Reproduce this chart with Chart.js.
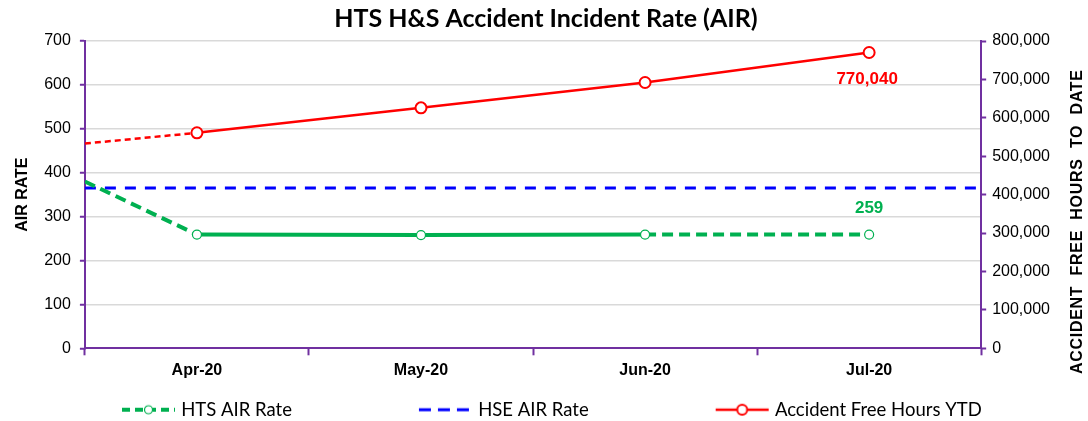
<!DOCTYPE html>
<html>
<head>
<meta charset="utf-8">
<script src="https://cdn.jsdelivr.net/npm/chart.js@4.4.1/dist/chart.umd.min.js"></script>
<style>
  html, body { margin: 0; padding: 0; background: #fff; }
  #wrap { width: 1088px; height: 421px; position: relative; }
</style>
</head>
<body>
<div id="wrap"><canvas id="c"></canvas></div>
<script>
// ---- data ----
const categories = ['Apr-20', 'May-20', 'Jun-20', 'Jul-20'];
// x positions: lead-in value at the left edge of the plot (-0.5), then the categories
const xPositions = [-0.5, 0, 1, 2, 3];
const htsAirRate = [380, 259, 258, 259, 259];
const htsDashedSegments = [0, 3];
const hseX = [-0.5, 3.5];
const hseAirRate = [365, 365];
const freeHoursYTD = [533000, 561000, 626000, 692000, 770040];
const freeHoursDashedSegments = [0];
const leftTicks = { min: 0, max: 700, step: 100 };
const rightTicks = { min: 0, max: 800000, step: 100000 };

const PURPLE = '#7030A0';
const GREEN = '#00B050';
const BLUE = '#0000FF';
const RED = '#FF0000';
const GRID = '#d9d9d9';

function pts(xs, ys) { return ys.map((y, i) => ({ x: xs[i], y })); }

const LEG_W = 171;
const IMG_W = LEG_W + 8;
function legendImage(color, lw, dash, marker, mr, mlw) {
  const cv = document.createElement('canvas');
  cv.width = IMG_W; cv.height = 14;
  const c = cv.getContext('2d');
  const x1 = IMG_W - 1, x0 = x1 - 53;
  c.strokeStyle = color; c.lineWidth = lw; c.setLineDash(dash);
  c.beginPath(); c.moveTo(x0, 7); c.lineTo(x1, 7); c.stroke();
  if (marker) {
    c.setLineDash([]);
    c.fillStyle = '#fff'; c.lineWidth = mlw;
    c.beginPath(); c.arc((x0 + x1) / 2, 7, mr, 0, Math.PI * 2); c.fill(); c.stroke();
  }
  return cv;
}
const legendImgs = [
  legendImage(GREEN, 4, [8, 5], true, 4, 1.2),
  legendImage(BLUE, 3, [12, 7], false),
  legendImage(RED, 2.5, [], true, 5, 2)
];

const valueLabels = {
  id: 'valueLabels',
  afterDatasetsDraw(chart) {
    const ctx = chart.ctx;
    ctx.save();
    ctx.font = 'bold 17px "Liberation Sans", Arial, sans-serif';
    ctx.textAlign = 'center';
    ctx.textBaseline = 'middle';
    const m0 = chart.getDatasetMeta(2).data;
    const pr = m0[m0.length - 1];
    ctx.fillStyle = RED;
    ctx.fillText(freeHoursYTD[freeHoursYTD.length - 1].toLocaleString('en-US'), pr.x - 2, pr.y + 27);
    const m1 = chart.getDatasetMeta(0).data;
    const pg = m1[m1.length - 1];
    ctx.fillStyle = GREEN;
    ctx.fillText(String(htsAirRate[htsAirRate.length - 1]), pg.x, pg.y - 26);
    ctx.restore();
  }
};

const rightTitle = {
  id: 'rightTitle',
  afterDraw(chart) {
    const ctx = chart.ctx;
    const ca = chart.chartArea;
    ctx.save();
    ctx.translate(1078, (ca.top + ca.bottom) / 2 + 27);
    ctx.rotate(-Math.PI / 2);
    ctx.font = 'bold 16px "Liberation Sans", Arial, sans-serif';
    try { ctx.letterSpacing = '0.7px'; } catch (e) {}
    ctx.fillStyle = '#000';
    ctx.textAlign = 'center';
    ctx.textBaseline = 'middle';
    ctx.fillText('ACCIDENT  FREE  HOURS  TO  DATE', 0, 0);
    ctx.restore();
  }
};

const dashFor = (list) => (ctx) => list.includes(ctx.p0DataIndex) ? undefined : [];

new Chart(document.getElementById('c'), {
  type: 'line',
  data: {
    datasets: [
      {
        label: 'HTS AIR Rate',
        data: pts(xPositions, htsAirRate),
        yAxisID: 'y',
        borderColor: GREEN,
        borderWidth: 4,
        borderDash: [11, 6],
        backgroundColor: '#fff',
        pointBackgroundColor: '#fff',
        pointBorderColor: GREEN,
        pointBorderWidth: 1.2,
        pointRadius: (c) => c.dataIndex === 0 ? 0 : 4.5,
        segment: { borderDash: dashFor(htsDashedSegments) },
        order: 2
      },
      {
        label: 'HSE AIR Rate',
        data: pts(hseX, hseAirRate),
        yAxisID: 'y',
        borderColor: BLUE,
        borderWidth: 3,
        borderDash: [11, 9],
        pointRadius: 0,
        order: 3
      },
      {
        label: 'Accident Free Hours YTD',
        data: pts(xPositions, freeHoursYTD),
        yAxisID: 'y1',
        borderColor: RED,
        borderWidth: 2.5,
        borderDash: [6, 4],
        pointBackgroundColor: '#fff',
        pointBorderColor: RED,
        pointBorderWidth: 2,
        pointRadius: (c) => c.dataIndex === 0 ? 0 : 5.5,
        segment: { borderDash: dashFor(freeHoursDashedSegments) },
        order: 1
      }
    ]
  },
  plugins: [valueLabels, rightTitle],
  options: {
    responsive: true,
    maintainAspectRatio: false,
    animation: false,
    layout: { padding: { left: -5, right: -9, top: 4, bottom: -8 } },
    plugins: {
      title: {
        display: true,
        text: 'HTS H&S Accident Incident Rate (AIR)',
        color: '#000',
        font: { family: 'Lato, "Open Sans", sans-serif', size: 25, weight: 'bold' },
        padding: { top: 0, bottom: 7 }
      },
      legend: {
        position: 'bottom',
        align: 'start',
        labels: {
          usePointStyle: true,
          pointStyleWidth: LEG_W,
          boxHeight: 14,
          padding: 6,
          color: '#000',
          font: { family: 'Lato, "Open Sans", sans-serif', size: 18.5 },
          generateLabels(chart) {
            return chart.data.datasets.map((ds, i) => ({
              text: ds.label,
              pointStyle: legendImgs[i],
              fillStyle: 'transparent',
              strokeStyle: 'transparent',
              lineWidth: 0,
              datasetIndex: i,
              hidden: false
            }));
          }
        }
      },
      tooltip: { enabled: false }
    },
    scales: {
      x: {
        type: 'linear',
        min: -0.5,
        max: 3.5,
        afterBuildTicks(scale) {
          const t = [];
          for (let v = -0.5; v <= 3.5; v += 0.5) t.push({ value: v });
          scale.ticks = t;
        },
        afterFit(scale) { scale.height += 8; },
        ticks: {
          autoSkip: false,
          maxRotation: 0,
          padding: 6,
          color: '#000',
          font: { family: '"Liberation Sans", Arial, sans-serif', size: 16, weight: 'bold' },
          callback: (v) => Number.isInteger(v) ? categories[v] : ''
        },
        grid: {
          drawOnChartArea: false,
          tickLength: 7,
          tickColor: (c) => (c.tick && Number.isInteger(c.tick.value)) ? 'rgba(0,0,0,0)' : PURPLE,
          tickWidth: 2
        },
        border: { color: PURPLE, width: 2 }
      },
      y: {
        position: 'left',
        min: leftTicks.min,
        max: leftTicks.max,
        ticks: {
          stepSize: leftTicks.step,
          padding: 9,
          color: '#000',
          font: { family: '"Liberation Sans", Arial, sans-serif', size: 16 }
        },
        grid: {
          color: (c) => c.tick && c.tick.value === 0 ? 'rgba(0,0,0,0)' : GRID,
          lineWidth: 1.5,
          tickColor: PURPLE,
          tickLength: 5,
          tickWidth: 2
        },
        border: { color: PURPLE, width: 2 },
        title: {
          display: true,
          text: 'AIR RATE',
          color: '#000',
          font: { family: '"Liberation Sans", Arial, sans-serif', size: 16, weight: 'bold' },
          padding: { top: 18, bottom: 3 }
        }
      },
      y1: {
        position: 'right',
        min: rightTicks.min,
        max: rightTicks.max,
        afterFit(scale) { scale.width += 41; },
        ticks: {
          stepSize: rightTicks.step,
          padding: 6,
          color: '#000',
          font: { family: '"Liberation Sans", Arial, sans-serif', size: 16 },
          callback: (v) => v.toLocaleString('en-US')
        },
        grid: {
          drawOnChartArea: false,
          tickColor: PURPLE,
          tickLength: 5,
          tickWidth: 2
        },
        border: { color: PURPLE, width: 2 }
      }
    }
  }
});
</script>
</body>
</html>
